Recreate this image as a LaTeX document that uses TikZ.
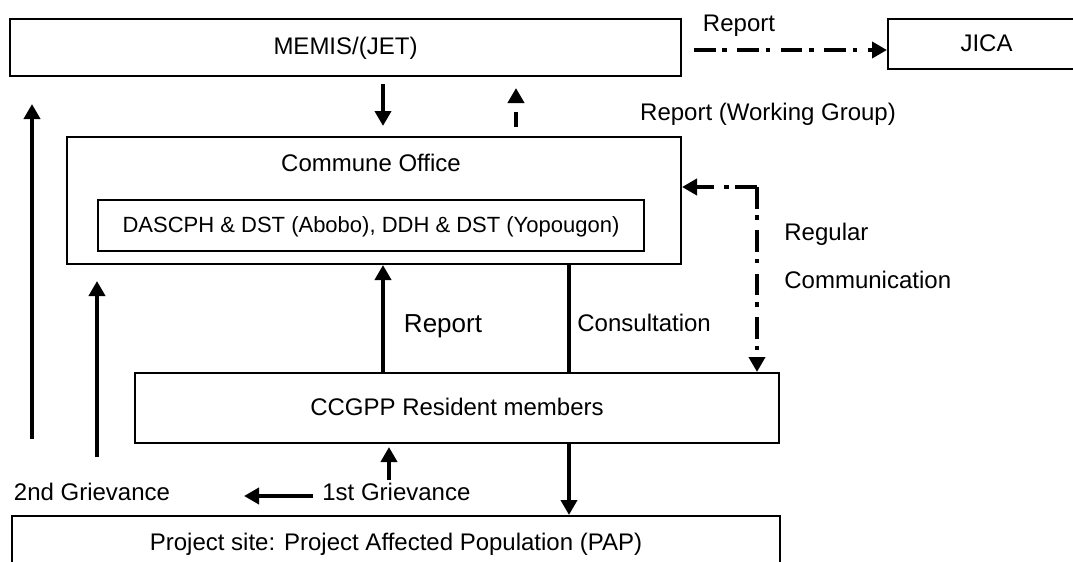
\documentclass[tikz,border=0pt]{standalone}
\usepackage{fontspec}
\setmainfont{Liberation Sans}
\usetikzlibrary{arrows.meta}
\begin{document}
\begin{tikzpicture}[x=0.5pt,y=-0.5pt,
  box/.style={draw, line width=1pt, inner sep=0pt, text height=0.72em, text depth=0pt,
              font=\fontsize{12}{14}\selectfont},
  lbl/.style={inner sep=0pt, font=\fontsize{12}{14}\selectfont},
  tip/.style={-{Triangle[length=7.5pt,width=8pt]}},
  flow/.style={line width=2pt, tip},
  dashdot/.style={line width=2pt, dash pattern=on 10.8pt off 3.4pt on 2.2pt off 5.3pt},
]
\clip (0,0) rectangle (1073,562);
\fill[white] (0,0) rectangle (1073,562);

% organisations
\node[box, minimum width=335.5pt, minimum height=28.5pt] (memis) at (345.5,47.5) {MEMIS/(JET)};
\node[box, minimum width=98.5pt, minimum height=25pt] (jica) at (986.5,44) {JICA};
\node[box, minimum width=307pt, minimum height=63.5pt] (commune) at (374,200.5) {};
\node[lbl, anchor=base] (communelbl) at (371,171) {Commune Office};
\node[box, font=\fontsize{11}{13}\selectfont, minimum width=273pt, minimum height=25.5pt]
  (dept) at (371,225.5) {DASCPH \& DST (Abobo), DDH \& DST (Yopougon)};
\node[box, minimum width=322pt, minimum height=35pt] (ccgpp) at (457,408) {CCGPP Resident members};
\node[box, minimum width=384pt, minimum height=27pt] (pap) at (396,543)
  {Project site: Project Affected Population (PAP)};

% labels
\node[lbl, anchor=base] (rep1) at (739,32) {Report};
\node[lbl, anchor=base] (repwg) at (768,120) {Report (Working Group)};
\node[lbl, anchor=base, font=\fontsize{13}{15}\selectfont] (rep2) at (443,332) {Report};
\node[lbl, anchor=base west] (consult) at (577,331.5) {Consultation};
\node[lbl, anchor=base west] (regular) at (784,240) {Regular};
\node[lbl, anchor=base west] (comm) at (784,288.5) {Communication};
\node[lbl, anchor=base] (g2) at (92,500) {2nd Grievance};
\node[lbl, anchor=base west] (g1) at (322,500) {1st Grievance};

% connector columns and rows
\coordinate (xA) at (32,0);
\coordinate (xB) at (97,0);
\coordinate (xC) at (383,0);
\coordinate (xD) at (516,0);
\coordinate (xE) at (569,0);
\coordinate (xG) at (389,0);
\coordinate (yR) at (0,50);
\coordinate (a1) at (32,439);
\coordinate (a2) at (97,457);
\coordinate (a3) at (389,480);
\coordinate (a4) at (244,496);
\coordinate (corner) at (757,187);

% MEMIS <-> Commune Office
\draw[flow, shorten <=3.5pt, shorten >=5pt] (memis.south -| xC) -- (commune.north -| xC);
\draw[line width=2pt, dash pattern=on 7.5pt off 20pt, tip, shorten <=4.5pt, shorten >=5.5pt]
  (commune.north -| xD) -- (memis.south -| xD);

% report to JICA
\draw[dashdot, tip, shorten <=6pt] (memis.east |- yR) -- (jica.west |- yR);

% grievance escalation
\draw[flow, shorten >=13.5pt] (a1) -- (memis.south -| xA);
\draw[flow, shorten >=8pt] (a2) -- (commune.south -| xB);

% Commune Office <-> CCGPP
\draw[flow] (ccgpp.north -| xC) -- (commune.south -| xC);
\draw[line width=2pt] (commune.south -| xE) -- (ccgpp.north -| xE);
\draw[flow] (ccgpp.south -| xE) -- (pap.north -| xE);

% first grievance
\draw[flow, shorten >=1.5pt] (a3) -- (ccgpp.south -| xG);
\draw[flow, shorten <=4.5pt] (g1.west |- a4) -- (a4);

% regular communication
\draw[dashdot, tip] (corner) -- (commune.east |- corner);
\draw[dashdot, tip] (corner) -- (ccgpp.north -| corner);
\end{tikzpicture}
\end{document}
